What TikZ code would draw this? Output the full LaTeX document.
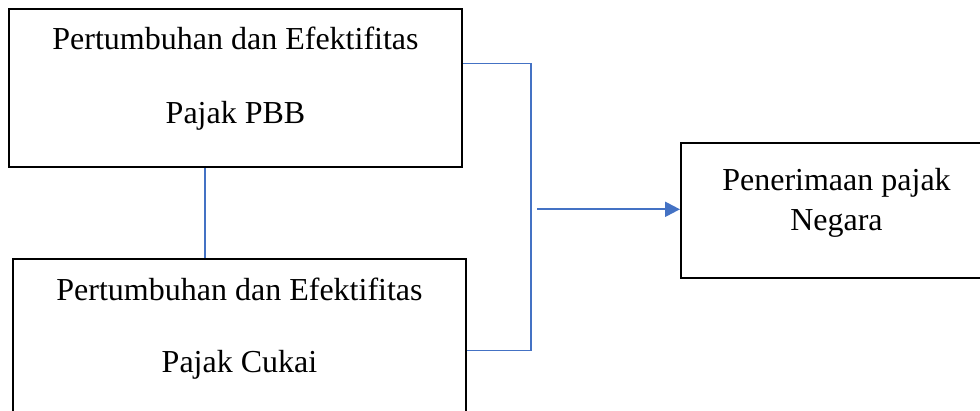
\documentclass[tikz,border=0pt]{standalone}
\usepackage{fontspec}
\setmainfont{Liberation Serif}
\usetikzlibrary{arrows.meta,calc}
\definecolor{linkblue}{HTML}{4472C4}
\tikzset{
  box/.style={draw=black, line width=2pt, rectangle, inner sep=0pt},
  caption/.style={anchor=base, inner sep=0pt, font=\fontsize{32}{38}\selectfont},
  link/.style={draw=linkblue, line width=1.3pt},
  flow/.style={draw=linkblue, line width=2.2pt, -{Triangle[length=15pt,width=15pt]}}
}
\begin{document}
\begin{tikzpicture}[x=1pt,y=1pt]
  \useasboundingbox (0,0) rectangle (980,-410);
  \clip (0,0) rectangle (980,-410);

  % boxes
  \node[box, minimum width=453pt, minimum height=158pt] (pbb) at (235.5,-88) {};
  \node[box, minimum width=453pt, minimum height=158pt] (cukai) at (239.5,-338) {};
  \node[box, minimum width=311pt, minimum height=134.4pt] (negara) at (836.5,-210.5) {};

  % box texts
  \node[caption] (pbb1) at (235.5,-49) {Pertumbuhan dan Efektifitas};
  \node[caption] (pbb2) at (235.5,-123) {Pajak PBB};
  \node[caption] (cuk1) at (239.5,-300) {Pertumbuhan dan Efektifitas};
  \node[caption] (cuk2) at (239.5,-372.7) {Pajak Cukai};
  \node[caption] (neg1) at (836.5,-190.7) {Penerimaan pajak};
  \node[caption] (neg2) at (836.5,-230) {Negara};

  % helper points for the connectors
  \coordinate (vx) at (205,0);
  \coordinate (j1) at (531,-63.3);
  \coordinate (j2) at (531,-350.7);
  \coordinate (a0) at (537,-209.3);

  % connectors
  \draw[link] (pbb.south -| vx) -- (cukai.north -| vx);
  \draw[link] (pbb.east |- j1) -- (j1) -- (j2) -- (cukai.east |- j2);
  \draw[flow] (a0) -- (negara.west |- a0);
\end{tikzpicture}
\end{document}
